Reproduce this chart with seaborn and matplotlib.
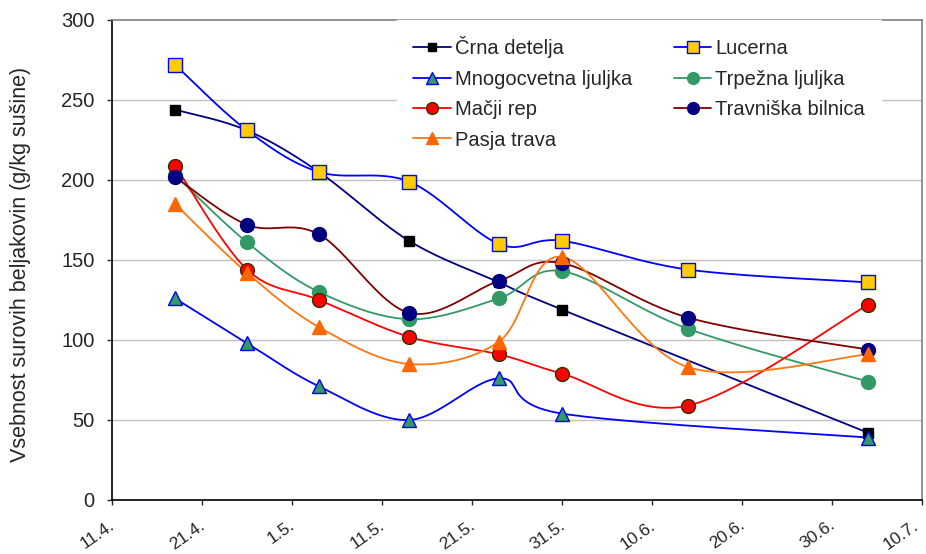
import numpy as np
import pandas as pd
import matplotlib
matplotlib.use('Agg')
import matplotlib.pyplot as plt
import matplotlib.transforms as mtransforms
from matplotlib.lines import Line2D
import seaborn as sns

# sampling days, counted from 11.4.
days = [7, 15, 23, 33, 43, 50, 64, 84]
tick_days = [0, 10, 20, 30, 40, 50, 60, 70, 80, 90]
tick_labels = ['11.4.', '21.4.', '1.5.', '11.5.', '21.5.', '31.5.', '10.6.', '20.6.', '30.6.', '10.7.']

crna = [244, 231, 205, 162, 136, 119, np.nan, 42]
lucerna = [272, 231, 205, 199, 160, 162, 144, 136]
mnogocvetna = [126, 98, 71, 50, 76, 54, np.nan, 39]
trpezna = [203, 161, 130, 113, 126, 143, 107, 74]
macji = [209, 144, 125, 102, 91, 79, 59, 122]
travniska = [202, 172, 166, 117, 137, 148, 114, 94]
pasja = [185, 142, 108, 85, 99, 152, 83, 91]

names = ['Črna detelja', 'Lucerna', 'Mnogocvetna ljuljka', 'Trpežna ljuljka',
         'Mačji rep', 'Travniška bilnica', 'Pasja trava']
values = [crna, lucerna, mnogocvetna, trpezna, macji, travniska, pasja]

# line colour, marker, marker face, marker edge, marker size
styles = {
    'Črna detelja': ('#000080', 's', 'black', 'black', 6.5),
    'Lucerna': ('#0000FF', 's', '#FFCC00', '#0000FF', 9.5),
    'Mnogocvetna ljuljka': ('#0000FF', '^', '#339966', '#0000FF', 10),
    'Trpežna ljuljka': ('#339966', 'o', '#339966', '#339966', 10),
    'Mačji rep': ('#FF0000', 'o', '#FF0000', '#333300', 10),
    'Travniška bilnica': ('#800000', 'o', '#000080', '#000080', 10),
    'Pasja trava': ('#FF7711', '^', '#FF6600', '#FF6600', 10),
}


def smooth(x, y, n=30):
    '''Excel-like smoothed line (Catmull-Rom through the points)'''
    x = np.asarray(x, float)
    y = np.asarray(y, float)
    ok = ~np.isnan(y)
    x, y = x[ok], y[ok]
    # scale to screen-like units so the curve shape follows the picture
    px, py = x * 9.0, y * 1.6
    xs, ys = [], []
    for i in range(len(px) - 1):
        p0 = (px[max(i - 1, 0)], py[max(i - 1, 0)])
        p1 = (px[i], py[i])
        p2 = (px[i + 1], py[i + 1])
        p3 = (px[min(i + 2, len(px) - 1)], py[min(i + 2, len(px) - 1)])
        b1 = (p1[0] + (p2[0] - p0[0]) / 6, p1[1] + (p2[1] - p0[1]) / 6)
        b2 = (p2[0] - (p3[0] - p1[0]) / 6, p2[1] - (p3[1] - p1[1]) / 6)
        t = np.linspace(0, 1, n)
        for k in range(2):
            c = ((1 - t) ** 3 * p1[k] + 3 * (1 - t) ** 2 * t * b1[k]
                 + 3 * (1 - t) * t ** 2 * b2[k] + t ** 3 * p2[k])
            (xs if k == 0 else ys).append(c)
    return np.concatenate(xs) / 9.0, np.concatenate(ys) / 1.6


sns.set_style('white')
plt.rcParams['font.family'] = ['Liberation Sans', 'DejaVu Sans']

fig = plt.figure(figsize=(9.26, 5.54), dpi=100)
ax = fig.add_axes([0.121, 0.0975, 0.8747, 0.8664])

for v in [50, 100, 150, 200, 250]:
    ax.axhline(v, color='#C0C0C0', lw=1, zorder=0)

handles = {}
for name, vals in zip(names, values):
    lc, mk, mf, me, ms = styles[name]
    sx, sy = smooth(days, vals)
    curve = pd.DataFrame({'x': sx, 'y': sy})
    sns.lineplot(data=curve, x='x', y='y', sort=False, color=lc, lw=1.3,
                 ax=ax, estimator=None, zorder=2)
    pts = pd.DataFrame({'x': days, 'y': vals}).dropna()
    ax.plot(pts['x'], pts['y'], ls='none', marker=mk, ms=ms, mfc=mf, mec=me,
            mew=1.0, zorder=3)
    handles[name] = Line2D([], [], color=lc, lw=1.3, marker=mk, ms=ms * 0.85,
                           mfc=mf, mec=me, mew=1.0)

ax.set_xlim(0, 90)
ax.set_ylim(0, 300)
ax.set_xticks(tick_days)
ax.set_xticklabels([])
# rotated date labels, placed by hand so the last one stays inside the figure
for i, (d, lab) in enumerate(zip(tick_days, tick_labels)):
    dx = -3 if i < len(tick_days) - 1 else -10
    off = mtransforms.ScaledTranslation(dx / 100, -17.5 / 100, fig.dpi_scale_trans)
    ax.text(d, 0, lab, transform=ax.get_xaxis_transform() + off, rotation=35,
            ha='right', va='top', rotation_mode='anchor', fontsize=12.5)
ax.set_yticks(range(0, 301, 50))
ax.tick_params(axis='y', labelsize=14.5, length=3.6, width=1, direction='out',
               left=True, pad=9)
ax.tick_params(axis='x', length=3.6, width=1, direction='out', bottom=True)
ax.set_xlabel('')
ax.set_ylabel('Vsebnost surovih beljakovin (g/kg sušine)', fontsize=15.5)
ax.yaxis.set_label_coords(-0.1, 0.49)

for s in ['left', 'bottom']:
    ax.spines[s].set_color('black')
    ax.spines[s].set_linewidth(1.2)
for s in ['top', 'right']:
    ax.spines[s].set_color('#808080')
    ax.spines[s].set_linewidth(1.2)

order = ['Črna detelja', 'Mnogocvetna ljuljka', 'Mačji rep', 'Pasja trava',
         'Lucerna', 'Trpežna ljuljka', 'Travniška bilnica']
leg = ax.legend([handles[n] for n in order], order, ncol=2, loc='upper left',
                bbox_to_anchor=(0.352, 1.0), frameon=True, fontsize=14.5,
                handlelength=1.85, handletextpad=0.2, columnspacing=2.1,
                labelspacing=0.57, borderpad=0.8, borderaxespad=0)
leg.get_frame().set_edgecolor('white')
leg.get_frame().set_facecolor('white')
leg.get_frame().set_alpha(1)
leg.get_frame().set_boxstyle('square', pad=0)
leg.set_zorder(5)

fig.savefig('out.png', dpi=100)
